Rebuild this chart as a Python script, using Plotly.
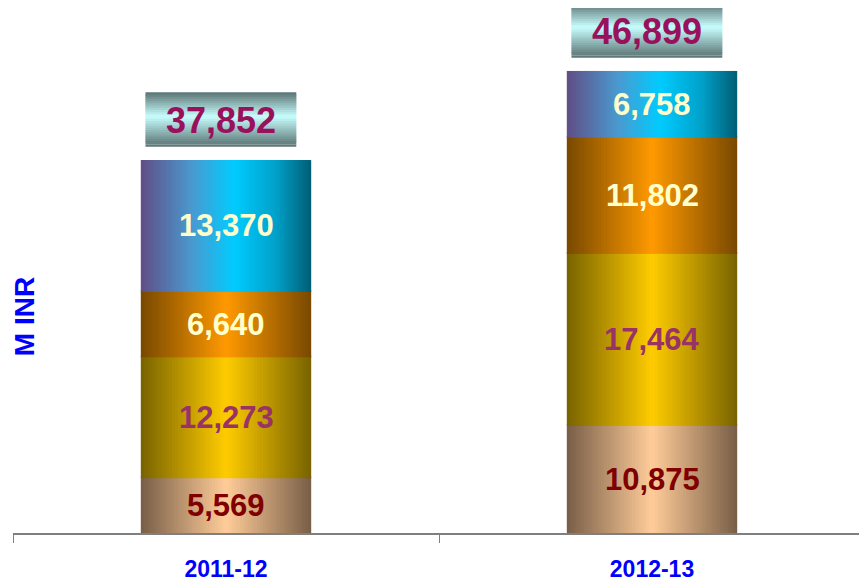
import plotly.graph_objects as go
from plotly.colors import sample_colorscale

years = ["2011-12", "2012-13"]
seg_names = ["Seg 1", "Seg 2", "Seg 3", "Seg 4"]
seg_values = [
    [5569, 10875],    # bottom (tan)
    [12273, 17464],   # yellow
    [6640, 11802],    # orange
    [13370, 6758],    # blue (top)
]
totals = [37852, 46899]

# horizontal gradients, left -> right
seg_scales = [
    [[0, "#7a6048"], [0.5, "#ffcc99"], [1, "#7a6048"]],
    [[0, "#7a6400"], [0.5, "#ffcc00"], [1, "#7a6400"]],
    [[0, "#7a4a00"], [0.5, "#ff9900"], [1, "#7a4a00"]],
    [[0, "#5f5087"], [0.3, "#4a9ad0"], [0.55, "#00ccff"], [0.8, "#00a0c8"], [1, "#006078"]],
]
seg_text_colors = ["#800000", "#993366", "#ffffcc", "#ffffcc"]
box_scale = [[0, "#5f7878"], [0.45, "#c8ffff"], [1, "#5f7878"]]

bar_w = 0.40
n_slices = 60
box_w = 0.354
box_h = 5400
box_gap = 1350
box_shift = -0.012
n_strips = 24
seam = 150  # small overlap so stacked segments meet without a light line

fig = go.Figure()

bases = [0, 0]
for k, vals in enumerate(seg_values):
    cols = sample_colorscale(seg_scales[k], [i / (n_slices - 1) for i in range(n_slices)])
    step = bar_w / n_slices
    extra = seam if k < len(seg_values) - 1 else 0
    for i in range(n_slices):
        w = step * 1.6 if i < n_slices - 1 else step
        fig.add_trace(go.Bar(
            x=years, y=[v + extra for v in vals], base=list(bases),
            offset=-bar_w / 2 + i * step, width=w,
            marker=dict(color=cols[i], line=dict(width=0)),
            showlegend=False, hoverinfo="skip",
        ))
    for j, yr in enumerate(years):
        fig.add_annotation(
            x=yr, y=bases[j] + vals[j] / 2, text=f"<b>{vals[j]:,}</b>", showarrow=False,
            font=dict(family="Liberation Sans, Arial", size=31, color=seg_text_colors[k]),
        )
    bases = [bases[j] + vals[j] for j in range(len(years))]

# total boxes with vertical gradient
cols = sample_colorscale(box_scale, [i / (n_strips - 1) for i in range(n_strips)])
dh = box_h / n_strips
for i in range(n_strips):
    h = dh * 1.6 if i < n_strips - 1 else dh
    fig.add_trace(go.Bar(
        x=years, y=[h] * len(years),
        base=[t + box_gap + box_h - (i + 1) * dh for t in totals],
        offset=-box_w / 2 + box_shift, width=box_w,
        marker=dict(color=cols[i], line=dict(width=0)),
        showlegend=False, hoverinfo="skip",
    ))
for j, yr in enumerate(years):
    fig.add_annotation(
        x=yr, y=totals[j] + box_gap + box_h / 2, xshift=-5, text=f"<b>{totals[j]:,}</b>",
        showarrow=False,
        font=dict(family="Liberation Sans, Arial", size=36, color="#99105c"),
    )

fig.add_annotation(
    xref="paper", yref="paper", x=11 / 852, y=0.411, text="<b>M INR</b>", textangle=-90,
    xanchor="center", yanchor="middle",
    showarrow=False, font=dict(family="Liberation Sans, Arial", size=28, color="#0000ff"),
)

# page body has an 8px margin, so the figure is sized to fit the window
fig.update_layout(
    barmode="overlay",
    width=859, height=580,
    margin=dict(l=5, r=2, t=0, b=55),
    plot_bgcolor="white", paper_bgcolor="white",
    xaxis=dict(
        type="category",
        showline=True, linecolor="#7f7f7f", linewidth=1.5,
        ticks="outside", tickson="boundaries", ticklen=8, tickcolor="#7f7f7f",
        ticklabelstandoff=15,
        tickfont=dict(family="Liberation Sans Narrow, Arial Narrow, Liberation Sans", size=23, color="#0000ff"),
        tickprefix="<b>", ticksuffix="</b>",
        showgrid=False, fixedrange=True,
    ),
    yaxis=dict(range=[0, 53290], visible=False, showgrid=False, fixedrange=True),
)

fig.write_html("out.html")
